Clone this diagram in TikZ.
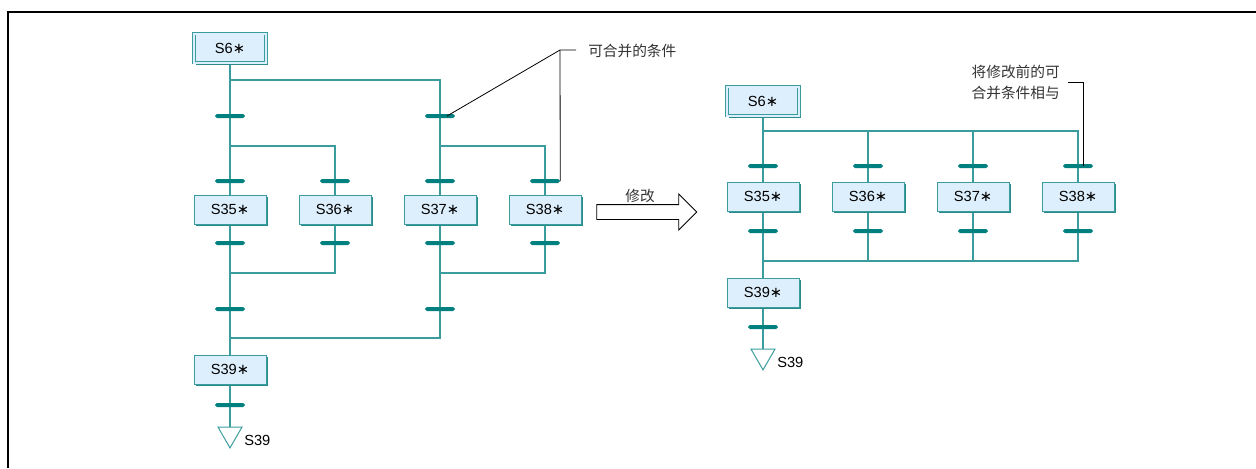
\documentclass[tikz,border=0pt]{standalone}
\usepackage{fontspec}
\setmainfont{Liberation Sans}
\newfontfamily\cjk{Noto Sans CJK SC}
\newfontfamily\symf{DejaVu Sans}
\usetikzlibrary{
  shapes.geometric,
  shapes.arrows,
  shadows,
  backgrounds
}
\definecolor{sfcline}{HTML}{3A9C9C}
\definecolor{sfcbar}{HTML}{00807F}
\definecolor{sfcfill}{HTML}{DDEFFC}
\definecolor{sfcshade}{HTML}{2B8A8A}
\definecolor{notegray}{HTML}{333333}
\newcommand{\stepname}[1]{S#1{\symf ∗}}

\begin{document}
\begin{tikzpicture}[x=0.75pt, y=-0.75pt,
      stepbox/.style={
        rectangle, draw=sfcline, fill=sfcfill, line width=0.75pt,
        minimum width=54pt, minimum height=21.75pt, inner sep=0pt,
        font=\fontsize{11}{13}\selectfont,
        drop shadow={shadow xshift=1.8pt, shadow yshift=-1.8pt, fill=sfcshade, opacity=1}
      },
      initbox/.style={stepbox, double=sfcfill, double distance=1.5pt, line width=0.6pt},
      trans/.style={
        rectangle, fill=sfcbar, minimum width=22.5pt, minimum height=3pt,
        inner sep=0pt, rounded corners=1.4pt
      },
      jump/.style={
        regular polygon, regular polygon sides=3, shape border rotate=180,
        draw=sfcline, line width=0.75pt, minimum size=20.8pt, inner sep=0pt
      },
      wire/.style={sfcline, line width=0.9pt},
      lead/.style={black, line width=0.6pt},
      note/.style={font=\cjk\fontsize{11}{15.75}\selectfont, text=notegray, inner sep=0pt},
      jlabel/.style={font=\fontsize{11}{13}\selectfont, anchor=west, inner sep=0pt},
      change/.style={
        single arrow, draw=black, line width=0.6pt, fill=white,
        minimum height=75pt, minimum width=26.25pt,
        single arrow head extend=7.875pt, inner xsep=0pt, inner ysep=5.25pt
      }
    ]
      \useasboundingbox (0,0) rectangle (1256,468);

      % Frame
      \draw[line width=1.5pt] (8,468) -- (8,12) -- (1256,12);

      % Left chart: steps and transitions
      \node[initbox] (s6) at (230,48) {\stepname{6}};
      \node[trans] (t1) at (230,116) {};
      \node[trans] (t2) at (440,116) {};
      \node[trans] (t3) at (230,181) {};
      \node[trans] (t4) at (335,181) {};
      \node[trans] (t5) at (440,181) {};
      \node[trans] (t6) at (545,181) {};
      \node[stepbox] (s35) at (230,209.5) {\stepname{35}};
      \node[stepbox] (s36) at (335,209.5) {\stepname{36}};
      \node[stepbox] (s37) at (440,209.5) {\stepname{37}};
      \node[stepbox] (s38) at (545,209.5) {\stepname{38}};
      \node[trans] (t7) at (230,243) {};
      \node[trans] (t8) at (335,243) {};
      \node[trans] (t9) at (440,243) {};
      \node[trans] (t10) at (545,243) {};
      \node[trans] (t11) at (230,309) {};
      \node[trans] (t12) at (440,309) {};
      \node[stepbox] (s39) at (230,369.5) {\stepname{39}};
      \node[trans] (t13) at (230,405) {};
      \node[jump] (e1) at (230,434) {};
      \node[jlabel] (e1lbl) at (244,440) {S39};

      % Left chart: branch points
      \coordinate (a1) at (440,80);
      \coordinate (a2) at (335,146);
      \coordinate (a3) at (545,146);
      \coordinate (a4) at (335,273);
      \coordinate (a5) at (545,273);
      \coordinate (a6) at (440,338);

      % Right chart: steps and transitions
      \node[initbox] (r6) at (763,101) {\stepname{6}};
      \node[trans] (u1) at (763,166) {};
      \node[trans] (u2) at (868,166) {};
      \node[trans] (u3) at (973,166) {};
      \node[trans] (u4) at (1078,166) {};
      \node[stepbox] (r35) at (763,196.5) {\stepname{35}};
      \node[stepbox] (r36) at (868,196.5) {\stepname{36}};
      \node[stepbox] (r37) at (973,196.5) {\stepname{37}};
      \node[stepbox] (r38) at (1078,196.5) {\stepname{38}};
      \node[trans] (u5) at (763,231) {};
      \node[trans] (u6) at (868,231) {};
      \node[trans] (u7) at (973,231) {};
      \node[trans] (u8) at (1078,231) {};
      \node[stepbox] (r39) at (763,292.5) {\stepname{39}};
      \node[trans] (u9) at (763,327) {};
      \node[jump] (e2) at (763,356) {};
      \node[jlabel] (e2lbl) at (777,362) {S39};

      % Right chart: branch points
      \coordinate (b1) at (1078,131);
      \coordinate (b2) at (1078,261);

      % Wires
      \begin{scope}[on background layer]
        \draw[wire] (s6) -- (s35);
        \draw[wire] (s6.south |- a1) -- (a1) -- (s37);
        \draw[wire] (s35 |- a2) -- (a2) -- (s36);
        \draw[wire] (s37 |- a3) -- (a3) -- (s38);
        \draw[wire] (s36) -- (a4) -- (s35 |- a4);
        \draw[wire] (s38) -- (a5) -- (s37 |- a5);
        \draw[wire] (s35) -- (s39);
        \draw[wire] (s37) -- (a6) -- (s39 |- a6);
        \draw[wire] (s39) -- (e1);

        \draw[wire] (r6) -- (r35);
        \draw[wire] (r6.south |- b1) -- (b1) -- (r38);
        \draw[wire] (r36 |- b1) -- (r36);
        \draw[wire] (r37 |- b1) -- (r37);
        \draw[wire] (r38) -- (b2) -- (r35 |- b2);
        \draw[wire] (r36) -- (r36 |- b2);
        \draw[wire] (r37) -- (r37 |- b2);
        \draw[wire] (r35) -- (r39);
        \draw[wire] (r39) -- (e2);
      \end{scope}

      % Change arrow
      \node[change] (chg) at (643,212) {};
      \node[note] (chglbl) at (640,196) {修改};

      % Notes
      \node[note, anchor=west] (n1) at (588,51) {可合并的条件};
      \coordinate (k1) at (560,50);
      \draw[lead] ([xshift=5.25pt]t2.center) -- (k1) -- ([xshift=-9pt]n1.west |- k1);
      \draw[lead] (k1) -- (t6.east);

      \node[note, align=left, anchor=east] (n2) at (1060,82) {将修改前的可\\合并条件相与};
      \coordinate (k2) at (1083,82);
      \draw[lead] ([xshift=6pt]n2.east |- k2) -- (k2) -- (k2 |- u4);
    \end{tikzpicture}
\end{document}
